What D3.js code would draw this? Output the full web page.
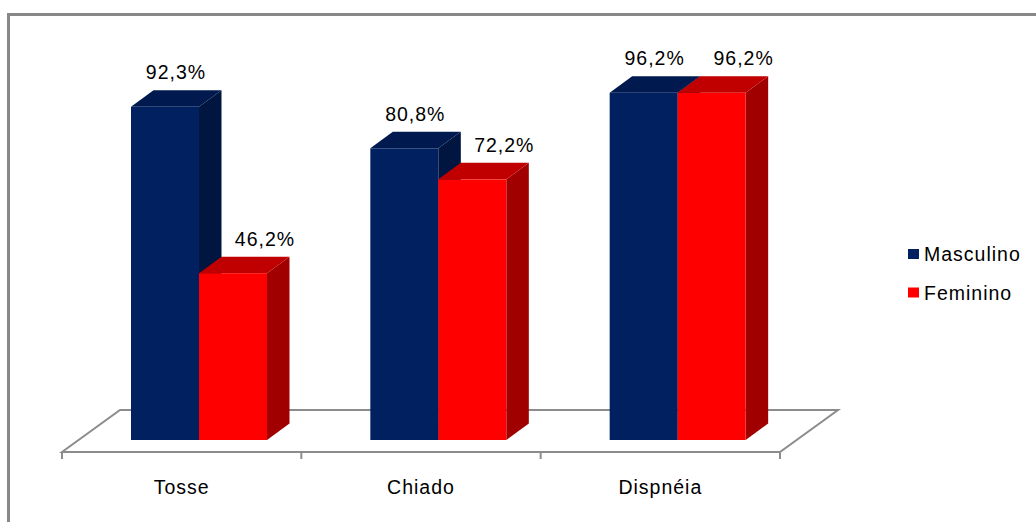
<!DOCTYPE html>
<html lang="pt">
<head>
    <meta charset="UTF-8">
    <script src="https://d3js.org/d3.v7.min.js"></script>
    <style>
        html,
        body {
            margin: 0;
            height: 100%;
            overflow: hidden;
            background: #fff;
        }
        text { font-family: "Liberation Sans", Arial, sans-serif; letter-spacing: 1px; }
    </style>
    <title>Sintomas por sexo</title>
</head>
<body>
<svg id="svg"></svg>
    <script>
        // dados
        const categories = ['Tosse', 'Chiado', 'Dispnéia'];
        const series = ['Masculino', 'Feminino'];
        const masculino = [92.3, 80.8, 96.2];
        const feminino = [46.2, 72.2, 96.2];
        const values = [masculino, feminino];

        const width = 1036, height = 522;
        const svg = d3.select('#svg').attr('width', width).attr('height', height);

        // cores: frente, topo, lado
        const colors = [
            { front: '#00205f', top: '#001a4f', side: '#00153f' },
            { front: '#ff0000', top: '#c00000', side: '#a00000' }
        ];

        // moldura (só topo e esquerda visíveis)
        svg.append('path')
            .attr('d', 'M8.5,530 V14.5 H1040')
            .attr('fill', 'none')
            .attr('stroke', '#888')
            .attr('stroke-width', 3);

        // chão 3D
        const floorFront = 452, floorBack = 410, floorDx = 58;
        const x = d3.scaleBand().domain(categories).range([62, 780]);
        const y = d3.scaleLinear().domain([0, 100]).range([440, 79]);
        const x0 = x.range()[0], x1 = x.range()[1];

        const floor = svg.append('g').attr('stroke', '#8c8c8c').attr('stroke-width', 2).attr('fill', 'none');
        floor.append('path')
            .attr('d', `M${x0},${floorFront} L${x0 + floorDx},${floorBack} H${x1 + floorDx} L${x1},${floorFront} Z`);
        floor.selectAll('line').data(categories.concat(['end'])).join('line')
            .attr('x1', (d, i) => i < categories.length ? x(d) : x1)
            .attr('x2', (d, i) => i < categories.length ? x(d) : x1)
            .attr('y1', floorFront)
            .attr('y2', floorFront + 7);

        // barras
        const barW = 68, inset = 69, dx = 22.5, dy = -16.5;
        const bars = [];
        categories.forEach((c, ci) => {
            series.forEach((s, si) => {
                bars.push({ cat: c, si: si, v: values[si][ci] });
            });
        });

        const g = svg.append('g');
        const bx = d => x(d.cat) + inset + d.si * barW;
        const bar = g.selectAll('g.bar').data(bars).join('g').attr('class', 'bar');

        bar.append('path') // lado
            .attr('fill', d => colors[d.si].side)
            .attr('d', d => {
                const r = bx(d) + barW, t = y(d.v), b = y(0);
                return `M${r},${b} L${r + dx},${b + dy} L${r + dx},${t + dy} L${r},${t} Z`;
            });
        bar.append('path') // topo
            .attr('fill', d => colors[d.si].top)
            .attr('d', d => {
                const l = bx(d), t = y(d.v);
                return `M${l},${t} L${l + dx},${t + dy} H${l + barW + dx} L${l + barW},${t} Z`;
            });
        bar.append('rect') // frente
            .attr('fill', d => colors[d.si].front)
            .attr('x', bx)
            .attr('y', d => y(d.v))
            .attr('width', barW)
            .attr('height', d => y(0) - y(d.v));

        // rótulos de valor
        const labelShift = [11, 32];
        g.selectAll('text.val').data(bars).join('text')
            .attr('class', 'val')
            .attr('x', d => bx(d) + barW / 2 + labelShift[d.si])
            .attr('y', d => y(d.v) + dy - 11)
            .attr('text-anchor', 'middle')
            .attr('font-size', 19.5)
            .attr('fill', '#000')
            .text(d => d.v.toFixed(1).replace('.', ',') + '%');

        // categorias
        svg.selectAll('text.cat').data(categories).join('text')
            .attr('class', 'cat')
            .attr('x', d => x(d) + x.bandwidth() / 2)
            .attr('y', 494)
            .attr('text-anchor', 'middle')
            .attr('font-size', 19.5)
            .text(d => d);

        // legenda
        const legend = svg.append('g').attr('transform', 'translate(908, 249)');
        const item = legend.selectAll('g').data(series).join('g')
            .attr('transform', (d, i) => `translate(0, ${i * 38.5})`);
        item.append('rect')
            .attr('width', 11).attr('height', 10)
            .attr('fill', (d, i) => colors[i].front);
        item.append('text')
            .attr('x', 16).attr('y', 12)
            .attr('font-size', 19.5)
            .text(d => d);
    </script>
</body>
</html>
